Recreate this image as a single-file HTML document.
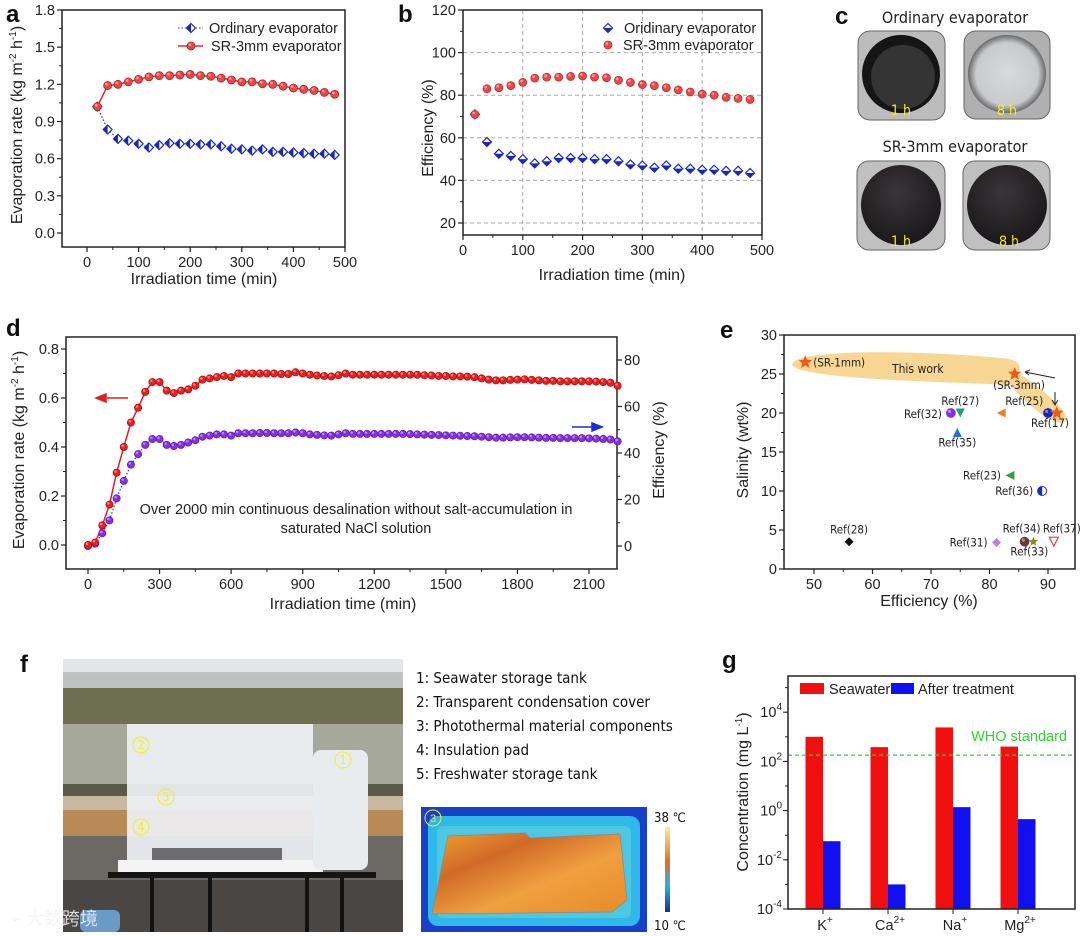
<!DOCTYPE html>
<html><head><meta charset="utf-8">
<style>
html,body{margin:0;padding:0;background:#fff;}
svg{display:block;font-family:"Liberation Sans","Noto Sans CJK SC",sans-serif;}
.t{font-size:14.5px;fill:#222;}
.ti{font-size:16px;fill:#222;}
.who{fill:#30d030 !important;}
.lab{font-size:24px;font-weight:bold;fill:#111;font-family:"Liberation Sans",sans-serif;}
.cal{font-family:"DejaVu Sans Condensed","DejaVu Sans","Liberation Sans",sans-serif;}
</style></head>
<body>
<svg id="fig" width="1080" height="936" viewBox="0 0 1080 936" xmlns="http://www.w3.org/2000/svg">
<defs>
<radialGradient id="gOrd8" cx="50%" cy="50%" r="50%"><stop offset="0" stop-color="#d8dadc"/><stop offset="0.8" stop-color="#c8cacc"/><stop offset="1" stop-color="#6a6a6c"/></radialGradient>
<radialGradient id="gDark" cx="45%" cy="35%" r="60%"><stop offset="0" stop-color="#3a3538"/><stop offset="1" stop-color="#1c1a1c"/></radialGradient>
<linearGradient id="gCbar" x1="0" y1="1" x2="0" y2="0"><stop offset="0" stop-color="#1a2a9a"/><stop offset="0.3" stop-color="#2ab0e0"/><stop offset="0.6" stop-color="#e07020"/><stop offset="1" stop-color="#f8f0a0"/></linearGradient>
<linearGradient id="gHot" x1="0" y1="0" x2="1" y2="1"><stop offset="0" stop-color="#f0a030"/><stop offset="0.3" stop-color="#d06a28"/><stop offset="0.6" stop-color="#f0a040"/><stop offset="1" stop-color="#e88a28"/></linearGradient>
<linearGradient id="gSky" x1="0" y1="0" x2="0" y2="1"><stop offset="0" stop-color="#e4e6e8"/><stop offset="1" stop-color="#c8ccc8"/></linearGradient>
</defs>

<text class="lab" x="6" y="22">a</text>
<text class="lab" x="398" y="22">b</text>
<text class="lab" x="835" y="24">c</text>
<text class="lab" x="6" y="336">d</text>
<text class="lab" x="720" y="338">e</text>
<text class="lab" x="20" y="672">f</text>
<text class="lab" x="722" y="668">g</text>

<g>
<text class="cal" x="955" y="23" font-size="16" text-anchor="middle" fill="#222">Ordinary evaporator</text>
<rect x="858" y="31" width="87" height="89" rx="12" fill="#bcbcbc" stroke="#666"/>
<circle cx="901" cy="74" r="39" fill="#151515"/>
<circle cx="903" cy="77" r="32" fill="#4a4a4a" opacity="0.6"/>
<text class="cal" x="901" y="115" font-size="14" text-anchor="middle" fill="#f0f020">1 h</text>
<rect x="964" y="31" width="86" height="88" rx="12" fill="#b0b0b0" stroke="#666"/>
<circle cx="1007" cy="74" r="39" fill="url(#gOrd8)"/>
<text class="cal" x="1007" y="115" font-size="14" text-anchor="middle" fill="#f0f020">8 h</text>
<text class="cal" x="955" y="152" font-size="16" text-anchor="middle" fill="#222">SR-3mm evaporator</text>
<rect x="857" y="161" width="88" height="89" rx="12" fill="#c0c0c0" stroke="#666"/>
<circle cx="901" cy="205" r="40" fill="url(#gDark)"/>
<text class="cal" x="901" y="246" font-size="14" text-anchor="middle" fill="#f0f020">1 h</text>
<rect x="963" y="161" width="87" height="89" rx="12" fill="#c0c0c0" stroke="#666"/>
<circle cx="1007" cy="205" r="40" fill="url(#gDark)"/>
<text class="cal" x="1009" y="246" font-size="14" text-anchor="middle" fill="#f0f020">8 h</text>
</g>

<g>
<rect x="63" y="659" width="340" height="273" fill="url(#gSky)"/>
<rect x="63" y="672" width="340" height="22" fill="#a8aaa8" opacity="0.6"/>
<rect x="63" y="688" width="340" height="36" fill="#6e6e50"/>
<rect x="63" y="724" width="340" height="60" fill="#a6a89c"/>
<rect x="63" y="784" width="340" height="12" fill="#5a5a48"/>
<rect x="63" y="796" width="340" height="14" fill="#c8b8a0"/>
<rect x="63" y="810" width="340" height="26" fill="#b88a58"/>
<rect x="63" y="836" width="340" height="96" fill="#6c6864"/>
<rect x="63" y="880" width="340" height="52" fill="#4a4644"/>
<rect x="127" y="724" width="186" height="140" fill="#eef0f4" opacity="0.92"/>
<rect x="152" y="848" width="130" height="12" fill="#3a3a3a" opacity="0.7"/>
<rect x="118" y="860" width="205" height="12" fill="#f4f4f4"/>
<rect x="313" y="750" width="55" height="120" rx="8" fill="#e8ecef"/>
<rect x="108" y="872" width="268" height="6" fill="#151515"/>
<rect x="150" y="878" width="4" height="54" fill="#111"/><rect x="208" y="878" width="4" height="54" fill="#111"/>
<rect x="305" y="878" width="4" height="54" fill="#111"/><rect x="340" y="878" width="4" height="54" fill="#111"/>
<rect x="80" y="910" width="40" height="22" rx="6" fill="#6a9ac8"/>
<g fill="none" stroke="#f0f020" stroke-width="1">
<circle cx="141" cy="745" r="8"/><circle cx="343" cy="760" r="8"/><circle cx="166" cy="797" r="8"/><circle cx="141" cy="827" r="8"/>
</g>
<g fill="#f0f020" font-size="12" text-anchor="middle" class="cal">
<text x="141" y="749">2</text><text x="343" y="764">1</text><text x="166" y="801">3</text><text x="141" y="831">4</text>
</g>
<text x="10" y="925" font-size="18" fill="#f4f4f4" opacity="0.85">⌁ 大数跨境</text>
</g>
<g class="cal" font-size="15" fill="#111">
<text x="416" y="683">1: Seawater storage tank</text>
<text x="416" y="707">2: Transparent condensation cover</text>
<text x="416" y="731">3: Photothermal material components</text>
<text x="416" y="755">4: Insulation pad</text>
<text x="416" y="779">5: Freshwater storage tank</text>
</g>
<g>
<rect x="421" y="807" width="226" height="125" fill="#1840c8"/>
<rect x="428" y="816" width="212" height="110" rx="10" fill="#30b8e8"/>
<rect x="437" y="826" width="194" height="92" rx="6" fill="#62d0e0" opacity="0.6"/>
<path d="M448 836 L525 833 L530 838 L620 834 L627 900 L612 912 L432 914 Z" fill="url(#gHot)" stroke="#888" stroke-width="0.7"/>
<circle cx="433" cy="818" r="8" fill="none" stroke="#f0f020"/>
<text x="433" y="822" font-size="11" fill="#f0f020" text-anchor="middle">3</text>
<rect x="665" y="827" width="5" height="85" fill="url(#gCbar)"/>
<text class="cal" x="654" y="822" font-size="13" fill="#111">38 ℃</text>
<text class="cal" x="654" y="930" font-size="13" fill="#111">10 ℃</text>
</g>
</svg>

<script>
const NS='http://www.w3.org/2000/svg';
const svg=document.getElementById('fig');
function mk(tag,attrs,parent,text){const e=document.createElementNS(NS,tag);for(const k in attrs)e.setAttribute(k,attrs[k]);if(text!==undefined)e.textContent=text;(parent||svg).appendChild(e);return e;}
function lin(d0,d1,r0,r1){return v=>r0+(v-d0)*(r1-r0)/(d1-d0);}

const aTime=[20,40,60,80,100,120,140,160,180,200,220,240,260,280,300,320,340,360,380,400,420,440,460,480];
const aOrdinary=[1.02,0.835,0.76,0.745,0.72,0.69,0.71,0.725,0.72,0.72,0.715,0.715,0.70,0.68,0.675,0.665,0.675,0.655,0.655,0.65,0.645,0.64,0.64,0.63];
const aSR=[1.02,1.19,1.20,1.22,1.24,1.26,1.27,1.27,1.275,1.28,1.27,1.265,1.25,1.235,1.22,1.22,1.205,1.20,1.185,1.17,1.16,1.15,1.135,1.12];
const aXTicks=[0,100,200,300,400,500];
const aYTicks=[0.0,0.3,0.6,0.9,1.2,1.5,1.8];

const bTime=[20,40,60,80,100,120,140,160,180,200,220,240,260,280,300,320,340,360,380,400,420,440,460,480];
const bOrdinary=[71,58,52.5,51.5,50,48,49,50.5,50.5,50.5,50,50,49,47.5,47,46,47,45.5,45.5,45,45,44.5,44.5,43.5];
const bSR=[71,83,83.5,84.5,86,88,88.5,88.5,88.8,89,88.5,88.2,87,86,85,84.5,83.5,82.5,81.5,80.5,80,79,78.5,78];
const bXTicks=[0,100,200,300,400,500];
const bYTicks=[20,40,60,80,100,120];

const dRate=[0,0.01,0.08,0.165,0.295,0.40,0.50,0.56,0.625,0.665,0.665,0.63,0.62,0.63,0.635,0.65,0.675,0.68,0.685,0.69,0.685,0.70,0.70,0.70,0.70,0.70,0.70,0.698,0.698,0.705,0.70,0.695,0.692,0.69,0.688,0.693,0.70,0.695,
0.695,0.695,0.695,0.695,0.695,0.695,0.695,0.695,0.695,0.693,0.692,0.69,0.69,
0.688,0.688,0.687,0.685,0.68,0.675,0.672,0.672,0.674,0.675,0.676,0.674,0.672,
0.670,0.670,0.668,0.668,0.668,0.668,0.668,0.667,0.665,0.662,0.65];
const dEff=[0,1,5.5,11,20.5,28,35,39.5,43.5,46,46,43.5,43,43.5,44.5,45.5,47,47.5,48,48,47.5,48.5,48.5,48.5,48.6,48.6,48.5,48.5,48.5,48.8,48.5,48,47.8,47.6,47.5,48,48.5,48.2,
48.2,48.2,48.2,48.2,48.2,48.2,48.2,48.1,48,47.9,47.8,47.7,47.6,
47.5,47.4,47.3,47.2,47,46.8,46.6,46.6,46.7,46.8,46.8,46.7,46.6,
46.5,46.5,46.4,46.4,46.4,46.4,46.3,46.2,46,45.8,45];
const dTimeStep=30;
const dXTicks=[0,300,600,900,1200,1500,1800,2100];
const dYTicks=[0,0.2,0.4,0.6,0.8];
const dY2Ticks=[0,20,40,60,80];

const eNames=['Ref(32)','Ref(27)','Ref(25)','Ref(17)','Ref(35)','Ref(23)','Ref(36)','Ref(28)','Ref(31)','Ref(34)','Ref(33)','Ref(37)'];
const eEff=[73.4,75,82,90,74.5,83.5,89,56,81.2,86,87.5,91];
const eSal=[20,20,20,20,17.5,12,10,3.5,3.4,3.5,3.5,3.5];
const eWorkNames=['SR-1mm','SR-3mm-a','SR-3mm-b'];
const eWorkEff=[48.5,84.3,91.5];
const eWorkSal=[26.5,25,20];
const eXTicks=[50,60,70,80,90];
const eYTicks=[0,5,10,15,20,25,30];

const gIons=['K','Ca','Na','Mg'];
const gIonSup=['+','2+','+','2+'];
const gSeawater=[1000,380,2400,400];
const gTreated=[0.057,0.001,1.38,0.45];
const gWHO=180;
const gYExp=[-4,-2,0,2,4];

function frame(g,L,R,T,B){const r=mk('rect',{x:L,y:T,width:R-L,height:B-T,fill:'none',stroke:'#222','stroke-width':1.5},g);}
function xTicks(g,ticks,xs,B,minorStep,L,R,fmt){
  ticks.forEach(v=>{mk('line',{x1:xs(v),x2:xs(v),y1:B,y2:B+5,stroke:'#222','stroke-width':1.2},g);
    const t=mk('text',{x:xs(v),y:B+20,'text-anchor':'middle',class:'t'},g,fmt?fmt(v):String(v));
    });
  if(minorStep){for(let i=0;i<ticks.length;i++){const v=ticks[i]+minorStep; if(xs(v)<R-1) mk('line',{x1:xs(v),x2:xs(v),y1:B,y2:B+3,stroke:'#222'},g); const w=ticks[i]-minorStep; if(i===0&&xs(w)>L+1) mk('line',{x1:xs(w),x2:xs(w),y1:B,y2:B+3,stroke:'#222'},g);}}
}
function yTicks(g,ticks,ys,L,minorStep,T,B,fmt,side){
  const s=side==='r'?1:-1;
  ticks.forEach(v=>{mk('line',{x1:L,x2:L+5*s,y1:ys(v),y2:ys(v),stroke:'#222','stroke-width':1.2},g);
    const t=mk('text',{x:L+7*s,y:ys(v)+5,'text-anchor':s<0?'end':'start',class:'t'},g,fmt?fmt(v):String(v));
    });
  if(minorStep){ticks.forEach((v,i)=>{const w=v+minorStep; if(ys(w)>T+1) mk('line',{x1:L,x2:L+3*s,y1:ys(w),y2:ys(w),stroke:'#222'},g); if(i===0){const u=v-minorStep; if(ys(u)<B-1) mk('line',{x1:L,x2:L+3*s,y1:ys(u),y2:ys(u),stroke:'#222'},g);}});}
}
function diamond(g,x,y,r,col,half){
  const p=mk('polygon',{points:`${x},${y-r} ${x+r},${y} ${x},${y+r} ${x-r},${y}`,fill:'#fff',stroke:col,'stroke-width':1.2},g);
  const h=half==='left'?`${x},${y-r} ${x},${y+r} ${x-r},${y}`:`${x-r},${y} ${x+r},${y} ${x},${y+r}`;
  mk('polygon',{points:h,fill:col},g);
  return p;
}
function ball(g,x,y,r,col,dark){const c=mk('circle',{cx:x,cy:y,r:r,fill:col,stroke:dark,'stroke-width':0.8},g);mk('circle',{cx:x-r*0.3,cy:y-r*0.35,r:r*0.35,fill:'#fff',opacity:0.45},g);return c;}
function vtitle(g,x,y,html,name){const t=mk('text',{x:x,y:y,transform:`rotate(-90 ${x} ${y})`,'text-anchor':'middle',class:'ti'},g);t.innerHTML=html;return t;}

/* panel a */
(function(){
const g=mk('g',{});
const L=62,R=345,T=10,B=247;
const xs=lin(0,500,87,345), ys=lin(0,1.8,233,10);
frame(g,L,R,T,B);
xTicks(g,aXTicks,xs,B,50,L,R);
yTicks(g,aYTicks,ys,L,0.15,T,B,v=>v.toFixed(1));
const tx=mk('text',{x:204,y:284,'text-anchor':'middle',class:'ti'},g,'Irradiation time (min)');
vtitle(g,22,125,'Evaporation rate (kg m<tspan dy="-6" font-size="10">-2</tspan><tspan dy="6"> h</tspan><tspan dy="-6" font-size="10">-1</tspan><tspan dy="6">)</tspan>','y-axis-title');
const lb=mk('polyline',{points:aTime.map((t,i)=>xs(t)+','+ys(aOrdinary[i])).join(' '),fill:'none',stroke:'#2030c8','stroke-width':1.2,'stroke-dasharray':'1.5,2'},g);

const lr=mk('polyline',{points:aTime.map((t,i)=>xs(t)+','+ys(aSR[i])).join(' '),fill:'none',stroke:'#e02a2a','stroke-width':1.5},g);

aTime.forEach((t,i)=>{const m=diamond(g,xs(t),ys(aOrdinary[i]),4.5,'#1a28c0','left');});
aTime.forEach((t,i)=>{const m=ball(g,xs(t),ys(aSR[i]),4,'#e84848','#b02020');});
const lg=mk('g',{},g);
mk('line',{x1:178,x2:203,y1:28,y2:28,stroke:'#2030c8','stroke-dasharray':'1.5,2'},lg);diamond(lg,191,28,4.5,'#1a28c0','left');
mk('text',{x:209,y:33,class:'t','font-size':'13.5'},lg,'Ordinary evaporator');
mk('line',{x1:178,x2:203,y1:46,y2:46,stroke:'#e02a2a','stroke-width':1.5},lg);ball(lg,191,46,4,'#e84848','#b02020');
mk('text',{x:211,y:51,class:'t','font-size':'13.5'},lg,'SR-3mm evaporator');
})();

/* panel b */
(function(){
const g=mk('g',{});
const L=463,R=762,T=10,B=235;
const xs=lin(0,500,463,762), ys=lin(20,120,223,10);
[100,200,300,400].forEach(v=>mk('line',{x1:xs(v),x2:xs(v),y1:T,y2:B,stroke:'#aaa','stroke-dasharray':'4,3'},g));
[20,40,60,80,100].forEach(v=>mk('line',{x1:L,x2:R,y1:ys(v),y2:ys(v),stroke:'#aaa','stroke-dasharray':'4,3'},g));
frame(g,L,R,T,B);
xTicks(g,bXTicks,xs,B,50,L,R);
yTicks(g,bYTicks,ys,L,10,T,B);
const tx=mk('text',{x:612,y:280,'text-anchor':'middle',class:'ti'},g,'Irradiation time (min)');
vtitle(g,433,128,'Efficiency (%)','y-axis-title');
bTime.forEach((t,i)=>{const m=diamond(g,xs(t),ys(bOrdinary[i]),4.5,'#1a28c0','bottom');});
bTime.forEach((t,i)=>{const m=ball(g,xs(t),ys(bSR[i]),4,'#e84848','#c03030');});
const lg=mk('g',{},g);
diamond(lg,608,28,4.5,'#1a28c0','bottom');mk('text',{x:624,y:33,class:'t','font-size':'13.5'},lg,'Oridinary evaporator');
ball(lg,608,45,4,'#e84848','#c03030');mk('text',{x:623,y:50,class:'t','font-size':'13.5'},lg,'SR-3mm evaporator');
})();

/* panel d */
(function(){
const g=mk('g',{});
const L=66,R=617,T=337,B=569;
const xs=lin(0,2100,88,589), ys=lin(0,0.8,545,349), ys2=lin(0,80,546,360);
frame(g,L,R,T,B);
xTicks(g,dXTicks,xs,B,150,L,R);
yTicks(g,dYTicks,ys,L,0.1,T,B,v=>v.toFixed(1));
yTicks(g,dY2Ticks,ys2,R,10,T,B,null,'r');
const tx=mk('text',{x:343,y:609,'text-anchor':'middle',class:'ti'},g,'Irradiation time (min)');
vtitle(g,24,450,'Evaporation rate (kg m<tspan dy="-6" font-size="10">-2</tspan><tspan dy="6"> h</tspan><tspan dy="-6" font-size="10">-1</tspan><tspan dy="6">)</tspan>','y-axis-title-left');
vtitle(g,664,450,'Efficiency (%)','y-axis-title-right');
const pe=mk('polyline',{points:dEff.map((v,i)=>xs(i*dTimeStep)+','+ys2(v)).join(' '),fill:'none',stroke:'#2030c8','stroke-width':1.2,'stroke-dasharray':'1.5,2'},g);

const pr=mk('polyline',{points:dRate.map((v,i)=>xs(i*dTimeStep)+','+ys(v)).join(' '),fill:'none',stroke:'#e02020','stroke-width':1.5},g);

dEff.forEach((v,i)=>{const m=ball(g,xs(i*dTimeStep),ys2(v),3.6,'#8a2ee0','#6020b0');});
dRate.forEach((v,i)=>{const m=ball(g,xs(i*dTimeStep),ys(v),3.6,'#e82020','#b01010');});
const a1=mk('path',{d:'M128 398 L104 398 M96 398 L106 394 L106 402 Z',stroke:'#e02020','stroke-width':1.5,fill:'#e02020'},g);
const a2=mk('path',{d:'M572 427 L594 427 M602 427 L592 423 L592 431 Z',stroke:'#1a28e0','stroke-width':1.5,fill:'#1a28e0'},g);
const n1=mk('text',{x:356,y:514,'text-anchor':'middle',class:'t','font-size':'15'},g,'Over 2000 min continuous desalination without salt-accumulation in');
const n2=mk('text',{x:356,y:533,'text-anchor':'middle',class:'t','font-size':'15'},g,'saturated NaCl solution');
})();

/* panel e */
(function(){
const g=mk('g',{});
const L=784,R=1075,T=335,B=569;
const xs=lin(50,90,814,1048), ys=lin(0,30,569,335);
const hl=mk('path',{d:'M792 365 C 792 350, 900 349, 1002 358 C 1020 360, 1022 366, 1018 372 C 1035 385, 1068 408, 1066 420 C 1060 428, 1040 418, 1010 385 C 960 382, 800 380, 792 365 Z',fill:'#f5c870',opacity:0.75},g);

frame(g,L,R,T,B);
xTicks(g,eXTicks,xs,B,5,L,R);
yTicks(g,eYTicks,ys,L,2.5,T,B);
const tx=mk('text',{x:929,y:606,'text-anchor':'middle',class:'ti'},g,'Efficiency (%)');
vtitle(g,748,450,'Salinity (wt%)','y-axis-title');
const tw=mk('text',{x:892,y:373,class:'cal','font-size':'12',fill:'#222'},g,'This work');
const styles=[['circle','#8a2ee0'],['tri-down','#20a070'],['tri-left','#f08020'],['circle','#1a28c0'],['tri-up','#2070e0'],['tri-left','#30a040'],['half','#1a28c0'],['diamond','#111'],['diamond','#c080e0'],['circle','#6a3a3a'],['star','#8a8a20'],['tri-down-open','#e04040']];
const labPos=[[-5,5,'end'],[0,-8,'middle'],[4,-8,'start'],[2,14,'middle'],[0,14,'middle'],[-5,4,'end'],[-5,4,'end'],[0,-8,'middle'],[-5,4,'end'],[-3,-9,'middle'],[-4,14,'middle'],[8,-9,'middle']];
function star(x,y,r,col){let p=[];for(let k=0;k<10;k++){const a=-Math.PI/2+k*Math.PI/5,rr=k%2?r*0.45:r;p.push((x+rr*Math.cos(a)).toFixed(1)+','+(y+rr*Math.sin(a)).toFixed(1));}return mk('polygon',{points:p.join(' '),fill:col},g);}
function marker(x,y,type,col){const r=4.5;
  if(type==='circle')return ball(g,x,y,r,col,col);
  if(type==='tri-down')return mk('polygon',{points:`${x-r},${y-r} ${x+r},${y-r} ${x},${y+r}`,fill:col},g);
  if(type==='tri-down-open')return mk('polygon',{points:`${x-r},${y-r} ${x+r},${y-r} ${x},${y+r}`,fill:'#fff',stroke:col,'stroke-width':1.2},g);
  if(type==='tri-up')return mk('polygon',{points:`${x-r},${y+r} ${x+r},${y+r} ${x},${y-r}`,fill:col},g);
  if(type==='tri-left')return mk('polygon',{points:`${x+r},${y-r} ${x+r},${y+r} ${x-r},${y}`,fill:col},g);
  if(type==='half'){const c=mk('circle',{cx:x,cy:y,r:r,fill:'#fff',stroke:col},g);mk('path',{d:`M${x} ${y-r} A${r} ${r} 0 0 0 ${x} ${y+r} Z`,fill:col},g);return c;}
  if(type==='diamond')return mk('polygon',{points:`${x},${y-r} ${x+r},${y} ${x},${y+r} ${x-r},${y}`,fill:col},g);
  if(type==='star')return star(x,y,5,col);
}
eNames.forEach((n,i)=>{const x=xs(eEff[i]),y=ys(eSal[i]);const m=marker(x,y,styles[i][0],styles[i][1]);
  
  const p=labPos[i];const t=mk('text',{x:x+p[0]-(p[2]==='end'?4:0),y:y+p[1],'text-anchor':p[2],class:'cal','font-size':'11.5',fill:'#222'},g,n);
  });
eWorkNames.forEach((n,i)=>{const s=star(xs(eWorkEff[i]),ys(eWorkSal[i]),7,'#f05a18');});
const l1=mk('text',{x:xs(eWorkEff[0])+8,y:ys(eWorkSal[0])+4,class:'cal','font-size':'11.5',fill:'#222'},g,'(SR-1mm)');
const l3=mk('text',{x:1019,y:389,'text-anchor':'middle',class:'cal','font-size':'11.5',fill:'#222'},g,'(SR-3mm)');
mk('path',{d:'M1055 378 L1025 372 M1025 372 L1030 370 M1025 372 L1029 375',stroke:'#222',fill:'none'},g);
mk('path',{d:'M1055 392 L1055 404 M1052 400 L1055 405 L1058 400',stroke:'#222',fill:'none'},g);
})();

/* panel g */
(function(){
const g=mk('g',{});
const L=788,R=1075,T=676,B=909;
const ys=v=>909-(Math.log10(v)+4)*24.6;
const xc=lin(0,3,823,1018), bw=17.5;
gIons.forEach((n,i)=>{
  const r=mk('rect',{x:xc(i)-bw,y:ys(gSeawater[i]),width:bw,height:B-ys(gSeawater[i]),fill:'#f01010'},g);
  const b=mk('rect',{x:xc(i),y:ys(gTreated[i]),width:bw,height:B-ys(gTreated[i]),fill:'#1010f0'},g);
  const t=mk('text',{x:xc(i)+2,y:930,'text-anchor':'middle',class:'t','font-size':'16'},g);t.innerHTML=n+'<tspan dy="-7" font-size="10">'+gIonSup[i]+'</tspan>';
  
  mk('line',{x1:xc(i),x2:xc(i),y1:B,y2:B+5,stroke:'#222'},g);
});
const w=mk('line',{x1:L,x2:R,y1:ys(gWHO),y2:ys(gWHO),stroke:'#30d030','stroke-width':1.3,'stroke-dasharray':'4,3'},g);
const wt=mk('text',{x:1067,y:741,'text-anchor':'end',class:'t who','font-size':'13'},g,'WHO standard');
frame(g,L,R,T,B);
gYExp.forEach(e=>{const y=909-(e+4)*24.6;mk('line',{x1:L,x2:L-5,y1:y,y2:y,stroke:'#222'},g);
  const t=mk('text',{x:L-6,y:y+5,'text-anchor':'end',class:'t'},g);t.innerHTML='10<tspan dy="-7" font-size="10">'+e+'</tspan>';
  });
for(let e=-4;e<5.5;e++){const y=909-(e+4)*24.6;if(y>T) mk('line',{x1:L,x2:L-3,y1:y,y2:y,stroke:'#222'},g);}
vtitle(g,748,792,'Concentration (mg L<tspan dy="-6" font-size="10">-1</tspan><tspan dy="6">)</tspan>','y-axis-title');
const lg=mk('g',{},g);
mk('rect',{x:800,y:683,width:24,height:11,fill:'#f01010'},lg);mk('text',{x:829,y:694,class:'t','font-size':'12.5'},lg,'Seawater');
mk('rect',{x:891,y:683,width:23,height:11,fill:'#1010f0'},lg);mk('text',{x:918,y:694,class:'t','font-size':'12.5'},lg,'After treatment');
})();
</script>
</body></html>
